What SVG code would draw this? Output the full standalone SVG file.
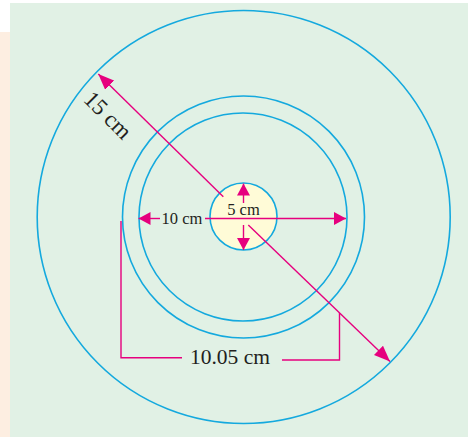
<svg xmlns="http://www.w3.org/2000/svg" width="468" height="437" viewBox="0 0 468 437">
  <style>
    .ring { fill: none; stroke: #14A9DE; stroke-width: 1.6; }
    .dim { fill: none; stroke: #E6007E; stroke-width: 1.4; }
    .lbl { font-family: "Liberation Serif", "Times New Roman", serif; fill: #231F20; }
  </style>
  <defs>
    <marker id="ah" viewBox="0 0 12 13" refX="12" refY="6.5" markerWidth="12" markerHeight="13" markerUnits="userSpaceOnUse" orient="auto">
      <path d="M0,0 L12,6.5 L0,13 z" fill="#E6007E"/>
    </marker>
    <marker id="ahl" viewBox="0 0 16 13" refX="16" refY="6.5" markerWidth="16" markerHeight="13" markerUnits="userSpaceOnUse" orient="auto">
      <path d="M0,0 L16,6.5 L0,13 z" fill="#E6007E"/>
    </marker>
  </defs>

  <g id="background">
    <rect x="0" y="0" width="468" height="437" fill="#FFFFFF"/>
    <rect x="0" y="32" width="10" height="405" fill="#FDEEE1"/>
    <rect x="10" y="3" width="458" height="434" fill="#E1F1E5"/>
  </g>

  <g id="outer-circle">
    <circle class="ring" cx="243.7" cy="217" r="206.5"/>
  </g>
  <g id="ring-outer">
    <circle class="ring" cx="243.5" cy="217" r="121"/>
  </g>
  <g id="ring-inner">
    <circle class="ring" cx="243" cy="217" r="104"/>
  </g>
  <g id="core">
    <circle cx="243.5" cy="216.5" r="33.5" fill="#FFFBD7" stroke="#14A9DE" stroke-width="1.6"/>
  </g>

  <g id="connectors">
    <line class="dim" x1="223.3" y1="196.7" x2="98.3" y2="74" marker-end="url(#ahl)"/>
    <line class="dim" x1="248.3" y1="225" x2="390" y2="361.5" marker-end="url(#ahl)"/>
    <line class="dim" x1="160" y1="218.5" x2="138.5" y2="218.5" marker-end="url(#ah)"/>
    <line class="dim" x1="205" y1="218.5" x2="346" y2="218.5" marker-end="url(#ah)"/>
    <line class="dim" x1="243.5" y1="203" x2="243.5" y2="183.5" marker-end="url(#ah)"/>
    <line class="dim" x1="243.5" y1="225" x2="243.5" y2="250" marker-end="url(#ah)"/>
    <polyline class="dim" points="121,221 121,357.7 182,357.7"/>
    <polyline class="dim" points="282,360 339.5,360 339.5,313"/>
  </g>

  <g id="labels">
    <text class="lbl" x="243.5" y="215" font-size="16.5" text-anchor="middle">5 cm</text>
    <text class="lbl" x="161.5" y="223.8" font-size="16.5">10 cm</text>
    <text class="lbl" x="230" y="364" font-size="21.5" text-anchor="middle">10.05 cm</text>
    <text class="lbl" transform="translate(102.5,120.5) rotate(45)" x="0" y="0" font-size="23" text-anchor="middle">15 cm</text>
  </g>
</svg>
